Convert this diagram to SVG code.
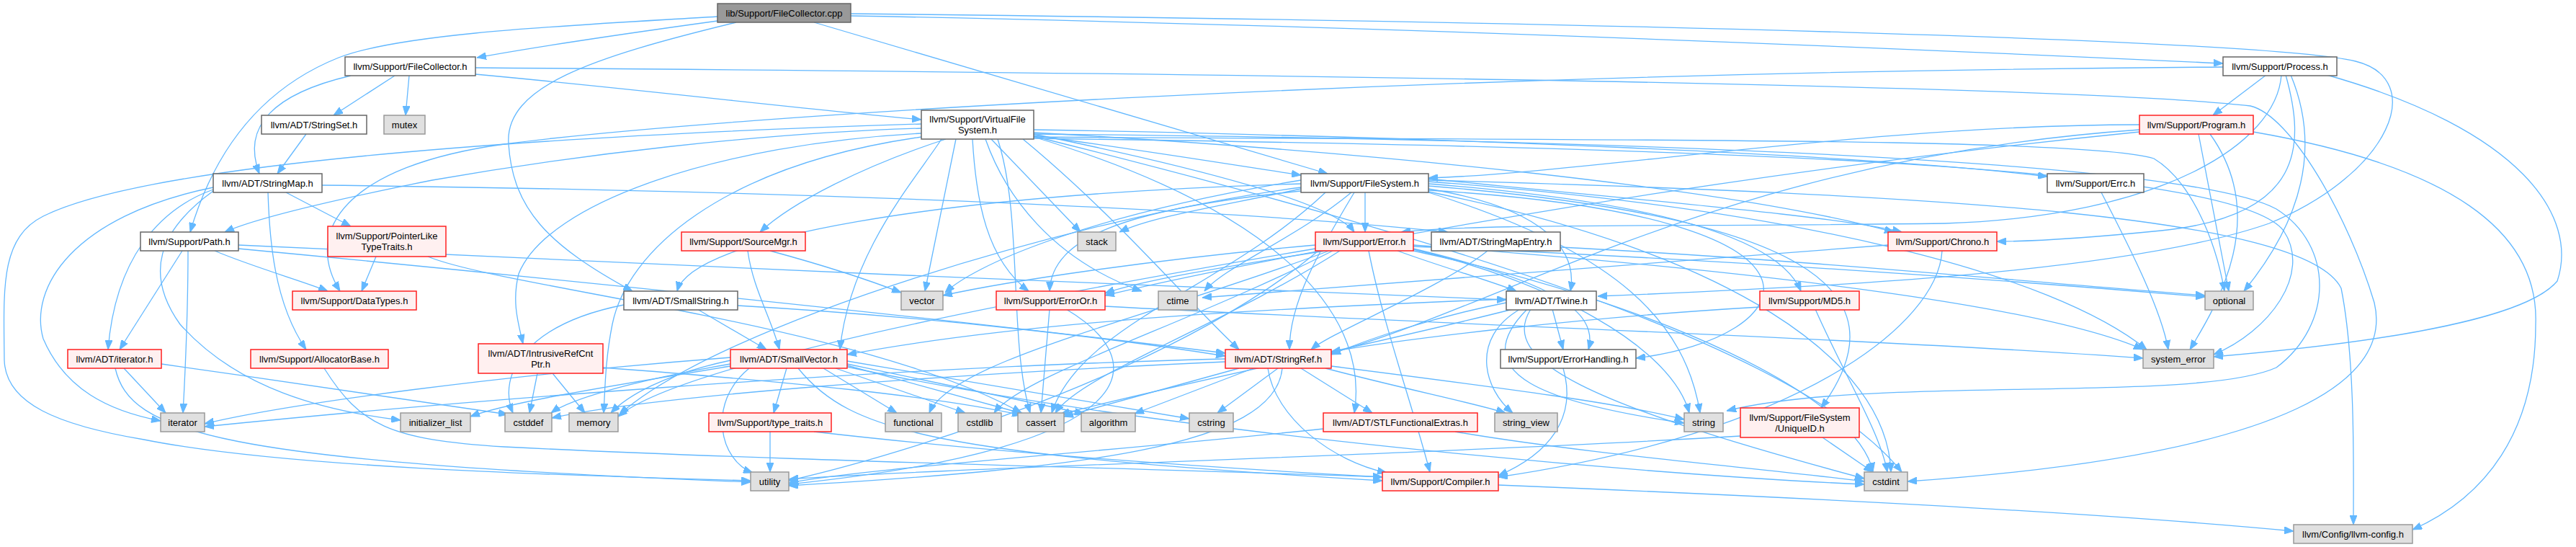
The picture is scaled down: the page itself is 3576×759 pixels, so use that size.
<svg xmlns="http://www.w3.org/2000/svg" width="3576" height="759" viewBox="0 0 3576 759">
<style>
rect{stroke-width:1.5}
.w rect{fill:#ffffff;stroke:#666666}
.r rect{fill:#fff0f0;stroke:#ff2020}
.g rect{fill:#e0e0e0;stroke:#999999}
.root rect{fill:#999999;stroke:#666666}
text{font-family:"Liberation Sans",Arial,Helvetica,sans-serif;font-size:13px;text-anchor:middle;fill:#000}
#edges path{fill:none;stroke:#63b8ff;stroke-width:1.3;marker-end:url(#ah)}
</style>
<defs>
<marker id="ah" viewBox="0 0 13 10" refX="13" refY="5" markerWidth="13" markerHeight="10" markerUnits="userSpaceOnUse" orient="auto">
<path d="M0,0 L13,5 L0,10 z" fill="#63b8ff" stroke="#63b8ff" stroke-width="1"/>
</marker>
</defs>
<rect width="3576" height="759" fill="#ffffff"/>
<g id="edges">
<!-- cpp -->
<path d="M996,29 C880,45 760,62 662,80"/>
<path d="M996,23 C800,35 560,45 470,80 C370,120 300,200 264,322"/>
<path d="M1022,31 C820,80 700,120 706,200 C712,290 760,340 878,404"/>
<path d="M1130,31 L1843,241"/>
<path d="M1181,22 C1900,35 2700,70 3086,88"/>
<path d="M1181,19 C2200,30 3150,55 3270,85 C3370,110 3320,240 3150,310 C2950,380 2500,400 2218,411"/>
<!-- FileCollector.h -->
<path d="M487,105 C380,130 335,175 360,241"/>
<path d="M548,105 L463,160"/>
<path d="M568,105 L563,160"/>
<path d="M660,103 C900,125 1100,150 1279,166"/>
<path d="M660,94 C1500,100 2850,115 3124,147 C3180,160 3260,300 3296,420 C3320,520 3200,630 2648,668"/>
<!-- StringSet -->
<path d="M425,186 L385,241"/>
<!-- StringMap -->
<path d="M447,257 C900,262 1600,280 2010,322"/>
<path d="M397,267 L487,314"/>
<path d="M372,267 C374,330 380,420 425,485"/>
<path d="M296,263 C220,290 160,360 150,485"/>
<path d="M296,260 C100,300 40,400 60,470 C90,540 150,570 223,584"/>
<path d="M296,265 C220,320 200,380 250,450 C330,540 450,570 556,583"/>
<!-- Path -->
<path d="M253,348 L166,485"/>
<path d="M261,348 C261,420 258,500 254,573"/>
<path d="M298,348 C350,370 420,390 455,404"/>
<path d="M331,345 C700,380 1300,440 1701,490"/>
<path d="M331,340 C800,360 1600,400 2091,416"/>
<!-- PointerLikeTypeTraits -->
<path d="M522,356 L502,404"/>
<path d="M594,356 C700,400 1200,450 1418,573"/>
<!-- SourceMgr -->
<path d="M1038,348 C1045,400 1070,440 1082,485"/>
<path d="M1069,348 C1150,370 1210,390 1251,406"/>
<!-- VFS -->
<path d="M1279,178 C1050,185 800,215 600,250 C450,280 350,305 312,322"/>
<path d="M1279,172 C700,190 200,230 60,300 C0,330 5,400 6,500 C8,560 80,590 200,610 C400,650 800,660 1042,667"/>
<path d="M1313,193 C1200,230 1100,280 1055,322"/>
<path d="M1376,193 L1500,322"/>
<path d="M1435,188 C1600,210 1750,235 1806,243"/>
<path d="M1435,180 C2000,190 2600,215 2842,245"/>
<path d="M1435,184 C1900,210 2400,260 2629,322"/>
<path d="M1435,190 C2200,195 2900,190 2990,220 C3040,250 3075,330 3088,404"/>
<path d="M1435,192 C2400,205 3100,230 3170,320 C3210,380 3150,460 3073,492"/>
<path d="M1279,185 C1000,200 760,280 720,380 C710,420 720,450 726,477"/>
<path d="M1279,190 C1000,230 870,350 850,450 C840,500 840,540 838,573"/>
<path d="M1307,193 C1270,250 1180,350 1166,485"/>
<path d="M1327,193 L1284,404"/>
<path d="M1350,193 C1355,280 1370,360 1428,404"/>
<path d="M1385,193 C1420,300 1400,470 1430,573"/>
<path d="M1368,193 C1395,270 1460,360 1585,404"/>
<path d="M1435,186 C2400,195 3050,230 3160,290 C3240,340 3240,450 3160,510 C3050,560 2600,520 2397,570"/>
<path d="M1435,189 C2000,330 2500,480 2640,655"/>
<path d="M1435,186 C1650,230 1850,280 1880,322"/>
<path d="M1420,193 C1550,300 1650,420 1720,485"/>
<path d="M1435,190 C1800,300 1900,450 1880,573"/>
<!-- FileSystem -->
<path d="M1895,267 L1895,322"/>
<path d="M1806,262 C1700,285 1600,300 1554,322"/>
<path d="M1806,255 C1300,270 960,330 940,404"/>
<path d="M1880,267 C1830,350 1790,420 1790,485"/>
<path d="M1983,262 C2150,290 2190,350 2180,404"/>
<path d="M1983,264 C2600,300 2500,470 2271,497"/>
<path d="M1806,265 C1560,290 1460,330 1457,404"/>
<path d="M1983,258 C2500,300 2650,400 2528,566"/>
<path d="M1983,255 C2300,280 2470,330 2500,404"/>
<path d="M1840,267 C1700,400 1500,450 1460,573"/>
<path d="M1983,266 C2400,350 2620,500 2625,655"/>
<path d="M1876,267 C1800,330 1700,370 1672,404"/>
<path d="M1806,260 C1500,300 1000,450 860,575"/>
<path d="M1983,267 C2250,350 2340,450 2360,573"/>
<path d="M1983,252 C2500,290 2850,380 2980,485"/>
<path d="M1806,250 C1500,300 1350,370 1312,406"/>
<path d="M1983,250 C2700,270 3200,300 3250,400 C3270,500 3267,650 3267,728"/>
<path d="M1983,248 C2300,280 2550,300 2640,322"/>
<!-- Error -->
<path d="M1940,348 C2000,370 2070,390 2105,404"/>
<path d="M1962,345 C2150,390 2220,430 2205,485"/>
<path d="M1840,348 C1700,370 1580,390 1534,407"/>
<path d="M1860,348 C1700,450 1500,520 1465,573"/>
<path d="M1850,348 C1650,450 1420,520 1380,573"/>
<path d="M1845,348 C1600,440 1320,500 1290,573"/>
<path d="M1826,345 C1500,400 950,500 858,578"/>
<path d="M1826,340 C1600,360 1400,390 1309,410"/>
<path d="M1962,342 C2400,360 2800,390 3061,412"/>
<path d="M1962,346 C2150,390 2320,480 2345,573"/>
<path d="M1962,340 C2500,380 2850,430 2975,485"/>
<path d="M1962,348 C2300,420 2580,550 2600,655"/>
<path d="M1830,348 C1650,500 1300,620 1095,667"/>
<path d="M1900,348 C1920,450 1960,560 1985,655"/>
<!-- ErrorOr -->
<path d="M1457,429 L1445,573"/>
<path d="M1480,429 C1600,500 1600,620 1095,672"/>
<path d="M1534,425 C2000,450 2600,470 2975,497"/>
<!-- SmallString -->
<path d="M968,429 L1064,485"/>
<path d="M1024,424 C1300,440 1550,470 1701,494"/>
<path d="M866,423 C730,450 690,520 712,573"/>
<!-- SmallVector -->
<path d="M1092,511 L1074,573"/>
<path d="M1143,511 L1245,573"/>
<path d="M1160,511 L1340,573"/>
<path d="M1176,507 L1420,574"/>
<path d="M1176,505 L1505,574"/>
<path d="M1176,501 L1651,581"/>
<path d="M1108,511 C1180,600 1300,630 1919,667"/>
<path d="M1176,509 C1600,600 2300,660 2588,672"/>
<path d="M1040,511 C980,560 1000,640 1045,656"/>
<path d="M1014,500 C920,520 870,550 848,573"/>
<path d="M1014,505 C870,530 790,555 765,573"/>
<path d="M1014,508 C820,540 700,560 653,578"/>
<path d="M1014,496 C700,520 400,560 284,588"/>
<!-- StringRef -->
<path d="M1806,511 L1905,573"/>
<path d="M1840,511 C1950,540 2050,560 2090,573"/>
<path d="M1848,508 C2100,540 2250,560 2338,582"/>
<path d="M1774,511 L1690,573"/>
<path d="M1740,511 L1575,574"/>
<path d="M1720,511 L1477,578"/>
<path d="M1760,511 C1770,580 1850,640 1925,656"/>
<path d="M1780,511 C1770,620 1500,650 1095,674"/>
<path d="M1701,502 C1300,520 900,550 766,580"/>
<path d="M1701,498 C1200,510 600,560 284,592"/>
<!-- Twine -->
<path d="M2155,429 L2170,485"/>
<path d="M2091,420 C1990,440 1900,470 1848,492"/>
<path d="M2091,415 C1700,430 1400,450 1176,492"/>
<path d="M2100,429 C1900,480 1600,540 1472,575"/>
<path d="M2120,429 C2030,520 2150,560 2338,587"/>
<path d="M2110,429 C2040,470 2060,540 2100,573"/>
<path d="M2125,429 C2080,500 2200,560 2588,664"/>
<!-- ErrorHandling -->
<path d="M2170,511 C2190,580 2150,630 2080,660"/>
<!-- STLFunctionalExtras -->
<path d="M2020,599 C2200,630 2450,650 2588,668"/>
<path d="M1837,595 C1500,630 1200,650 1095,670"/>
<!-- type_traits -->
<path d="M1069,599 L1069,655"/>
<path d="M1130,599 C1400,630 1700,650 1919,662"/>
<!-- Compiler -->
<path d="M2080,673 C2500,690 2900,710 3184,737"/>
<!-- UniqueID -->
<path d="M2530,607 L2600,655"/>
<path d="M2416,605 C2000,630 1300,650 1095,665"/>
<!-- MD5 -->
<path d="M2443,426 C2200,440 1950,470 1848,488"/>
<path d="M2520,429 C2560,520 2610,600 2620,655"/>
<!-- StringMapEntry -->
<path d="M2065,348 C2000,400 1850,460 1820,485"/>
<path d="M2166,343 C2500,360 2800,390 3061,410"/>
<!-- iterator.h -->
<path d="M172,511 L230,573"/>
<path d="M224,505 C400,530 600,560 705,575"/>
<path d="M160,511 C180,600 300,640 1042,669"/>
<!-- AllocatorBase -->
<path d="M450,511 C500,590 540,610 700,620 C1100,640 1600,650 1919,662"/>
<!-- IntrusiveRefCntPtr -->
<path d="M746,518 L735,573"/>
<path d="M767,518 L812,573"/>
<path d="M837,510 C1100,530 1300,550 1418,576"/>
<!-- Chrono -->
<path d="M2621,340 C2200,370 1800,400 1669,413"/>
<path d="M2696,348 C2690,450 2500,600 2080,662"/>
<!-- Process -->
<path d="M3146,104 L3072,160"/>
<path d="M3086,93 C2000,100 1000,160 700,200 C480,230 420,320 472,404"/>
<path d="M3167,104 C3160,200 3000,300 2700,310 C2300,315 2050,310 1945,322"/>
<path d="M3173,104 C3200,200 3200,300 3000,320 C2900,330 2820,335 2772,335"/>
<path d="M3180,104 C3220,200 3200,300 3115,404"/>
<path d="M3230,104 C3500,180 3580,300 3550,390 C3500,450 3250,480 3073,495"/>
<!-- Program -->
<path d="M2970,173 C2600,173 2200,240 1983,247"/>
<path d="M2970,180 C2400,220 2100,420 1848,490"/>
<path d="M2970,183 C2300,250 1700,370 1534,410"/>
<path d="M3052,186 L3094,404"/>
<path d="M3068,186 C3150,300 3080,420 3040,485"/>
<path d="M3128,183 C3400,230 3525,320 3520,450 C3520,600 3450,690 3349,735"/>
<!-- Errc -->
<path d="M2917,267 C2960,350 3000,430 3010,485"/>
</g>
<g id="n_cpp" class="root"><rect x="996" y="5" width="185" height="26"/><text x="1088.5" y="22.5">lib/Support/FileCollector.cpp</text></g>
<g id="n_filecollector" class="w"><rect x="479" y="79" width="181" height="26"/><text x="569.5" y="96.5">llvm/Support/FileCollector.h</text></g>
<g id="n_process" class="w"><rect x="3086" y="79" width="158" height="26"/><text x="3165" y="96.5">llvm/Support/Process.h</text></g>
<g id="n_stringset" class="w"><rect x="363" y="160" width="146" height="26"/><text x="436" y="177.5">llvm/ADT/StringSet.h</text></g>
<g id="n_mutex" class="g"><rect x="533" y="160" width="57" height="26"/><text x="561.5" y="177.5">mutex</text></g>
<g id="n_vfs" class="w"><rect x="1279" y="153" width="156" height="40"/><text x="1357" y="170">llvm/Support/VirtualFile</text><text x="1357" y="185">System.h</text></g>
<g id="n_program" class="r"><rect x="2970" y="160" width="158" height="26"/><text x="3049" y="177.5">llvm/Support/Program.h</text></g>
<g id="n_stringmap" class="w"><rect x="296" y="241" width="151" height="26"/><text x="371.5" y="258.5">llvm/ADT/StringMap.h</text></g>
<g id="n_filesystem" class="w"><rect x="1806" y="241" width="177" height="26"/><text x="1894.5" y="258.5">llvm/Support/FileSystem.h</text></g>
<g id="n_errc" class="w"><rect x="2842" y="241" width="134" height="26"/><text x="2909" y="258.5">llvm/Support/Errc.h</text></g>
<g id="n_path" class="w"><rect x="195" y="322" width="136" height="26"/><text x="263" y="339.5">llvm/Support/Path.h</text></g>
<g id="n_pltt" class="r"><rect x="455" y="314" width="164" height="42"/><text x="537" y="332">llvm/Support/PointerLike</text><text x="537" y="347">TypeTraits.h</text></g>
<g id="n_sourcemgr" class="r"><rect x="946" y="322" width="172" height="26"/><text x="1032" y="339.5">llvm/Support/SourceMgr.h</text></g>
<g id="n_stack" class="g"><rect x="1496" y="322" width="53" height="26"/><text x="1522.5" y="339.5">stack</text></g>
<g id="n_error" class="r"><rect x="1826" y="322" width="136" height="26"/><text x="1894" y="339.5">llvm/Support/Error.h</text></g>
<g id="n_stringmapentry" class="w"><rect x="1987" y="322" width="179" height="26"/><text x="2076.5" y="339.5">llvm/ADT/StringMapEntry.h</text></g>
<g id="n_chrono" class="r"><rect x="2621" y="322" width="151" height="26"/><text x="2696.5" y="339.5">llvm/Support/Chrono.h</text></g>
<g id="n_datatypes" class="r"><rect x="406" y="404" width="172" height="26"/><text x="492" y="421.5">llvm/Support/DataTypes.h</text></g>
<g id="n_smallstring" class="w"><rect x="866" y="404" width="158" height="26"/><text x="945" y="421.5">llvm/ADT/SmallString.h</text></g>
<g id="n_vector" class="g"><rect x="1251" y="404" width="58" height="26"/><text x="1280" y="421.5">vector</text></g>
<g id="n_erroror" class="r"><rect x="1383" y="404" width="151" height="26"/><text x="1458.5" y="421.5">llvm/Support/ErrorOr.h</text></g>
<g id="n_ctime" class="g"><rect x="1608" y="404" width="54" height="26"/><text x="1635" y="421.5">ctime</text></g>
<g id="n_twine" class="w"><rect x="2091" y="404" width="125" height="26"/><text x="2153.5" y="421.5">llvm/ADT/Twine.h</text></g>
<g id="n_md5" class="r"><rect x="2443" y="404" width="138" height="26"/><text x="2512" y="421.5">llvm/Support/MD5.h</text></g>
<g id="n_optional" class="g"><rect x="3061" y="404" width="67" height="26"/><text x="3094.5" y="421.5">optional</text></g>
<g id="n_iteratorh" class="r"><rect x="94" y="485" width="130" height="26"/><text x="159" y="502.5">llvm/ADT/iterator.h</text></g>
<g id="n_allocatorbase" class="r"><rect x="348" y="485" width="191" height="26"/><text x="443.5" y="502.5">llvm/Support/AllocatorBase.h</text></g>
<g id="n_intrusiverefcntptr" class="r"><rect x="664" y="477" width="173" height="41"/><text x="750.5" y="494.5">llvm/ADT/IntrusiveRefCnt</text><text x="750.5" y="509.5">Ptr.h</text></g>
<g id="n_smallvector" class="r"><rect x="1014" y="485" width="162" height="26"/><text x="1095" y="502.5">llvm/ADT/SmallVector.h</text></g>
<g id="n_stringref" class="r"><rect x="1701" y="485" width="147" height="26"/><text x="1774.5" y="502.5">llvm/ADT/StringRef.h</text></g>
<g id="n_errorhandling" class="w"><rect x="2083" y="485" width="188" height="26"/><text x="2177" y="502.5">llvm/Support/ErrorHandling.h</text></g>
<g id="n_system_error" class="g"><rect x="2975" y="485" width="98" height="26"/><text x="3024" y="502.5">system_error</text></g>
<g id="n_iterator" class="g"><rect x="223" y="573" width="61" height="26"/><text x="253.5" y="590.5">iterator</text></g>
<g id="n_initializer_list" class="g"><rect x="556" y="573" width="97" height="26"/><text x="604.5" y="590.5">initializer_list</text></g>
<g id="n_cstddef" class="g"><rect x="701" y="573" width="65" height="26"/><text x="733.5" y="590.5">cstddef</text></g>
<g id="n_memory" class="g"><rect x="790" y="573" width="68" height="26"/><text x="824" y="590.5">memory</text></g>
<g id="n_type_traits" class="r"><rect x="984" y="573" width="170" height="26"/><text x="1069" y="590.5">llvm/Support/type_traits.h</text></g>
<g id="n_functional" class="g"><rect x="1229" y="573" width="78" height="26"/><text x="1268" y="590.5">functional</text></g>
<g id="n_cstdlib" class="g"><rect x="1330" y="573" width="60" height="26"/><text x="1360" y="590.5">cstdlib</text></g>
<g id="n_cassert" class="g"><rect x="1413" y="573" width="64" height="26"/><text x="1445" y="590.5">cassert</text></g>
<g id="n_algorithm" class="g"><rect x="1501" y="573" width="75" height="26"/><text x="1538.5" y="590.5">algorithm</text></g>
<g id="n_cstring" class="g"><rect x="1651" y="573" width="61" height="26"/><text x="1681.5" y="590.5">cstring</text></g>
<g id="n_stlfunctionalextras" class="r"><rect x="1837" y="573" width="214" height="26"/><text x="1944" y="590.5">llvm/ADT/STLFunctionalExtras.h</text></g>
<g id="n_string_view" class="g"><rect x="2075" y="573" width="87" height="26"/><text x="2118.5" y="590.5">string_view</text></g>
<g id="n_string" class="g"><rect x="2338" y="573" width="54" height="26"/><text x="2365" y="590.5">string</text></g>
<g id="n_uniqueid" class="r"><rect x="2416" y="566" width="165" height="41"/><text x="2498.5" y="583.5">llvm/Support/FileSystem</text><text x="2498.5" y="598.5">/UniqueID.h</text></g>
<g id="n_utility" class="g"><rect x="1042" y="655" width="53" height="26"/><text x="1068.5" y="672.5">utility</text></g>
<g id="n_compiler" class="r"><rect x="1919" y="655" width="161" height="26"/><text x="1999.5" y="672.5">llvm/Support/Compiler.h</text></g>
<g id="n_cstdint" class="g"><rect x="2588" y="655" width="60" height="26"/><text x="2618" y="672.5">cstdint</text></g>
<g id="n_llvmconfig" class="g"><rect x="3184" y="728" width="165" height="26"/><text x="3266.5" y="745.5">llvm/Config/llvm-config.h</text></g>
</svg>
